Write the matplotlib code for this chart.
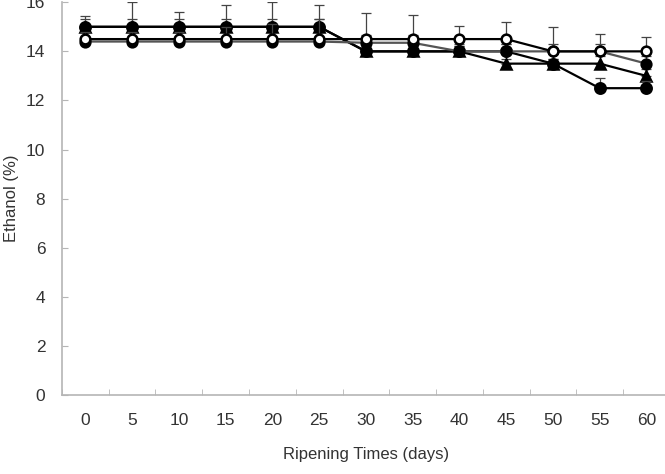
import matplotlib
matplotlib.use("Agg")
import matplotlib.pyplot as plt
import numpy as np

# ---------------------------------------------------------------------------
# Data
# ---------------------------------------------------------------------------
days = ["0", "5", "10", "15", "20", "25", "30", "35", "40", "45", "50", "55", "60"]

filled_circle = [15.0, 15.0, 15.0, 15.0, 15.0, 15.0, 14.0, 14.0, 14.0, 14.0, 13.5, 12.5, 12.5]
filled_circle_err = [0.45, 1.0, 0.6, 0.9, 1.0, 0.9, 0.3, 0.3, 0.2, 0.3, 0.2, 0.4, 0.3]

filled_tri = [15.0, 15.0, 15.0, 15.0, 15.0, 15.0, 14.0, 14.0, 14.0, 13.5, 13.5, 13.5, 13.0]
filled_tri_err = [0.3, 0.3, 0.3, 0.3, 0.3, 0.3, 0.25, 0.25, 0.2, 0.2, 0.2, 0.3, 0.3]

second_filled = [14.4, 14.4, 14.4, 14.4, 14.4, 14.4, 14.35, 14.35, 14.0, 14.0, 14.0, 14.0, 13.5]
second_filled_err = [0.2, 0.2, 0.2, 0.2, 0.2, 0.2, 0.3, 0.3, 0.3, 0.3, 0.3, 0.3, 0.3]

open_circle = [14.5, 14.5, 14.5, 14.5, 14.5, 14.5, 14.5, 14.5, 14.5, 14.5, 14.0, 14.0, 14.0]
open_circle_err = [0.3, 0.3, 0.3, 0.5, 0.6, 0.8, 1.05, 1.0, 0.55, 0.7, 1.0, 0.7, 0.6]

# ---------------------------------------------------------------------------
# Figure
# ---------------------------------------------------------------------------
plt.rcParams["font.family"] = ["Liberation Sans", "DejaVu Sans"]
fig = plt.figure(figsize=(6.65, 4.74), dpi=100)
ax = fig.add_axes([0.0932, 0.1667, 0.914, 0.8285])

x = np.arange(len(days))
AXIS_GREY = "#b5b5b5"
TEXT_GREY = "#333333"


def series(vals, err, marker, face, size, z, lc="black"):
    up = [0 * e for e in err], err
    ax.errorbar(x, vals, yerr=up, fmt="none", ecolor="#444444",
                elinewidth=0.9, capsize=3.5, capthick=0.9, zorder=z - 0.5)
    ax.plot(x, vals, color=lc, lw=1.6, marker=marker, ms=size,
            mfc=face, mec="black", mew=1.8, zorder=z)


series(filled_tri, filled_tri_err, "^", "black", 7.5, 3)
series(filled_circle, filled_circle_err, "o", "black", 7.5, 4)
series(second_filled, second_filled_err, "o", "black", 7.0, 5, lc="#555555")
series(open_circle, open_circle_err, "o", "white", 7.0, 6)

ax.set_xlim(-0.5, len(days) - 0.5)
ax.set_ylim(0, 16)
ax.set_yticks(np.arange(0, 17, 2))
ax.set_xticks(x)
ax.set_xticklabels(days)
ax.set_xticks(np.arange(-0.5, len(days)), minor=True)

for s in ("top", "right"):
    ax.spines[s].set_visible(False)
for s in ("left", "bottom"):
    ax.spines[s].set_color(AXIS_GREY)
    ax.spines[s].set_linewidth(1.2)

ax.tick_params(axis="x", which="major", length=0, pad=13,
               labelsize=12.5, labelcolor=TEXT_GREY)
ax.tick_params(axis="x", which="minor", direction="in", length=4,
               color=AXIS_GREY)
ax.tick_params(axis="y", direction="in", length=4, color=AXIS_GREY,
               pad=12, labelsize=12.5, labelcolor=TEXT_GREY)

ax.set_xlabel("Ripening Times (days)", fontsize=12, color=TEXT_GREY, labelpad=14)
ax.set_ylabel("Ethanol (%)", fontsize=12, color=TEXT_GREY)
ax.yaxis.set_label_coords(-0.071, 0.5)

fig.savefig("out.png", dpi=100, facecolor="white")
